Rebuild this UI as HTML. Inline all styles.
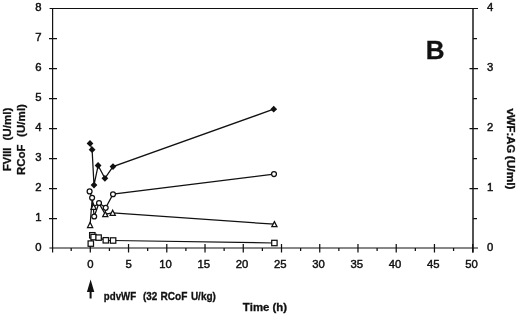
<!DOCTYPE html>
<html><head><meta charset="utf-8"><style>
html,body{margin:0;padding:0;background:#fff;width:520px;height:317px;overflow:hidden}
svg{display:block;will-change:transform}
text{font-family:"Liberation Sans",sans-serif;font-kerning:none;stroke:#111;stroke-width:0.3px}
.reg text{stroke-width:0.45px}
</style></head><body><svg width="520" height="317" viewBox="0 0 520 317" font-family="Liberation Sans, sans-serif"><path d="M49.6 8.5H478 M49.4 248.0H478" stroke="#111" stroke-width="1.2" fill="none"/><path d="M52.6 8.5V252.5" stroke="#111" stroke-width="1.2" fill="none"/><path d="M473.0 8.5V252.5" stroke="#111" stroke-width="1.45" fill="none"/><path d="M49 38.5H57 M49 68.5H57 M49 98.5H57 M49 128.5H57 M49 158.5H57 M49 188.5H57 M49 218.5H57 " stroke="#111" stroke-width="1.25"/><path d="M473.0 38.5H477 M469.5 68.5H478 M473.0 98.5H477 M469.5 128.5H478 M473.0 158.5H477 M469.5 188.5H478 M473.0 218.5H477 " stroke="#111" stroke-width="1.25"/><path d="M90.30 244V252.5 M128.54 244V252.5 M166.78 244V252.5 M205.02 244V252.5 M243.26 244V252.5 M281.50 244V252.5 M319.74 244V252.5 M357.98 244V252.5 M396.22 244V252.5 M434.46 244V252.5 M472.70 244V252.5 M71.18 248.0V251 M109.42 248.0V251 M147.66 248.0V251 M185.90 248.0V251 M224.14 248.0V251 M262.38 248.0V251 M300.62 248.0V251 M338.86 248.0V251 M377.10 248.0V251 M415.34 248.0V251 M453.58 248.0V251 " stroke="#111" stroke-width="1.25"/><g class="reg" font-size="11.3" fill="#111"><text x="41.6" y="250.9" text-anchor="end">0</text><text x="41.6" y="220.9" text-anchor="end">1</text><text x="41.6" y="190.9" text-anchor="end">2</text><text x="41.6" y="160.9" text-anchor="end">3</text><text x="41.6" y="130.9" text-anchor="end">4</text><text x="41.6" y="100.9" text-anchor="end">5</text><text x="41.6" y="70.9" text-anchor="end">6</text><text x="41.6" y="40.9" text-anchor="end">7</text><text x="41.6" y="10.9" text-anchor="end">8</text><text x="487.1" y="250.9">0</text><text x="487.1" y="190.9">1</text><text x="487.1" y="130.9">2</text><text x="487.1" y="70.9">3</text><text x="487.1" y="10.9">4</text><text x="90.5" y="267.8" text-anchor="middle">0</text><text x="128.7" y="267.8" text-anchor="middle">5</text><text x="165.6" y="267.8" text-anchor="middle">10</text><text x="203.8" y="267.8" text-anchor="middle">15</text><text x="242.1" y="267.8" text-anchor="middle">20</text><text x="280.3" y="267.8" text-anchor="middle">25</text><text x="318.5" y="267.8" text-anchor="middle">30</text><text x="356.8" y="267.8" text-anchor="middle">35</text><text x="395.0" y="267.8" text-anchor="middle">40</text><text x="433.3" y="267.8" text-anchor="middle">45</text><text x="471.5" y="267.8" text-anchor="middle">50</text></g><path d="M90.8 243.6 L92.3 235.3 L93.6 237.1 L98.6 237.6 L105.8 240.3 L113.1 240.5 L274.4 243.0" stroke="#111" stroke-width="1.25" fill="none"/><path d="M90.1 225.0 L92.1 199.5 L93.6 206.8 L99.0 203.4 L105.3 214.2 L112.7 212.8 L274.4 224.2" stroke="#111" stroke-width="1.25" fill="none"/><path d="M89.6 191.4 L92.1 197.7 L94.2 216.5 L99.0 203.0 L105.7 207.8 L113.0 194.2 L274.0 174.1" stroke="#111" stroke-width="1.25" fill="none"/><path d="M90.0 143.4 L92.1 149.7 L94.0 185.1 L98.1 165.5 L104.9 178.3 L113.0 166.6 L273.7 109.2" stroke="#111" stroke-width="1.25" fill="none"/><rect x="88.1" y="240.9" width="5.4" height="5.4" fill="#fff" stroke="#111" stroke-width="1.25"/><rect x="89.6" y="232.6" width="5.4" height="5.4" fill="#fff" stroke="#111" stroke-width="1.25"/><rect x="90.9" y="234.4" width="5.4" height="5.4" fill="#fff" stroke="#111" stroke-width="1.25"/><rect x="95.9" y="234.9" width="5.4" height="5.4" fill="#fff" stroke="#111" stroke-width="1.25"/><rect x="103.1" y="237.6" width="5.4" height="5.4" fill="#fff" stroke="#111" stroke-width="1.25"/><rect x="110.4" y="237.8" width="5.4" height="5.4" fill="#fff" stroke="#111" stroke-width="1.25"/><rect x="271.7" y="240.3" width="5.4" height="5.4" fill="#fff" stroke="#111" stroke-width="1.25"/><path d="M90.1 222.4 L92.7 227.5 L87.5 227.5Z" fill="#fff" stroke="#111" stroke-width="1.25" stroke-linejoin="miter"/><path d="M93.6 204.2 L96.2 209.3 L91.0 209.3Z" fill="#fff" stroke="#111" stroke-width="1.25" stroke-linejoin="miter"/><path d="M105.3 211.6 L107.9 216.7 L102.7 216.7Z" fill="#fff" stroke="#111" stroke-width="1.25" stroke-linejoin="miter"/><path d="M112.7 210.2 L115.3 215.3 L110.1 215.3Z" fill="#fff" stroke="#111" stroke-width="1.25" stroke-linejoin="miter"/><path d="M274.4 221.6 L277.0 226.7 L271.8 226.7Z" fill="#fff" stroke="#111" stroke-width="1.25" stroke-linejoin="miter"/><circle cx="89.6" cy="191.4" r="2.45" fill="#fff" stroke="#111" stroke-width="1.25"/><circle cx="92.1" cy="197.7" r="2.45" fill="#fff" stroke="#111" stroke-width="1.25"/><circle cx="94.2" cy="216.5" r="2.45" fill="#fff" stroke="#111" stroke-width="1.25"/><circle cx="99.0" cy="203.0" r="2.45" fill="#fff" stroke="#111" stroke-width="1.25"/><circle cx="105.7" cy="207.8" r="2.45" fill="#fff" stroke="#111" stroke-width="1.25"/><circle cx="113.0" cy="194.2" r="2.45" fill="#fff" stroke="#111" stroke-width="1.25"/><circle cx="274.0" cy="174.1" r="2.45" fill="#fff" stroke="#111" stroke-width="1.25"/><path d="M90.0 140.0 L93.4 143.4 L90.0 146.8 L86.6 143.4Z" fill="#111"/><path d="M92.1 146.3 L95.5 149.7 L92.1 153.1 L88.7 149.7Z" fill="#111"/><path d="M94.0 181.7 L97.4 185.1 L94.0 188.5 L90.6 185.1Z" fill="#111"/><path d="M98.1 162.1 L101.5 165.5 L98.1 168.9 L94.7 165.5Z" fill="#111"/><path d="M104.9 174.9 L108.3 178.3 L104.9 181.7 L101.5 178.3Z" fill="#111"/><path d="M113.0 163.2 L116.4 166.6 L113.0 170.0 L109.6 166.6Z" fill="#111"/><path d="M273.7 105.8 L277.1 109.2 L273.7 112.6 L270.3 109.2Z" fill="#111"/><g fill="#111"><text x="425.66" y="58.6" font-size="25.8" font-weight="bold" textLength="18.83" lengthAdjust="spacingAndGlyphs">B</text></g><g transform="translate(11.2,171) rotate(-90)" fill="#111"><text x="-0.04" y="0" font-size="11.8" font-weight="bold" textLength="23.49" lengthAdjust="spacingAndGlyphs">FVIII</text><text x="30.52" y="0" font-size="11.8" font-weight="bold" textLength="32.75" lengthAdjust="spacingAndGlyphs">(U/ml)</text></g><g transform="translate(25.2,175) rotate(-90)" fill="#111"><text x="0.03" y="0" font-size="11.8" font-weight="bold" textLength="30.59" lengthAdjust="spacingAndGlyphs">RCoF</text><text x="38.12" y="0" font-size="11.8" font-weight="bold" textLength="32.86" lengthAdjust="spacingAndGlyphs">(U/ml)</text></g><g transform="translate(507.0,108) rotate(90)" fill="#111"><text x="0.56" y="0" font-size="11.5" font-weight="bold" textLength="44.65" lengthAdjust="spacingAndGlyphs">vWF:AG</text><text x="47.70" y="0" font-size="11.5" font-weight="bold" textLength="33.89" lengthAdjust="spacingAndGlyphs">(U/ml)</text></g><path d="M90.6 279.5 L94.3 292 L86.9 292Z" fill="#111"/><path d="M90.6 290V298.5" stroke="#111" stroke-width="2"/><g fill="#111"><text x="103.86" y="300.1" font-size="10.5" font-weight="bold" textLength="32.29" lengthAdjust="spacingAndGlyphs">pdvWF</text><text x="143.01" y="300.1" font-size="10.5" font-weight="bold" textLength="14.29" lengthAdjust="spacingAndGlyphs">(32</text><text x="160.52" y="300.1" font-size="10.5" font-weight="bold" textLength="26.95" lengthAdjust="spacingAndGlyphs">RCoF</text><text x="190.90" y="300.1" font-size="10.5" font-weight="bold" textLength="25.00" lengthAdjust="spacingAndGlyphs">U/kg)</text></g><g fill="#111"><text x="242.87" y="310.7" font-size="10.5" font-weight="bold" textLength="44.19" lengthAdjust="spacingAndGlyphs">Time (h)</text></g></svg></body></html>
